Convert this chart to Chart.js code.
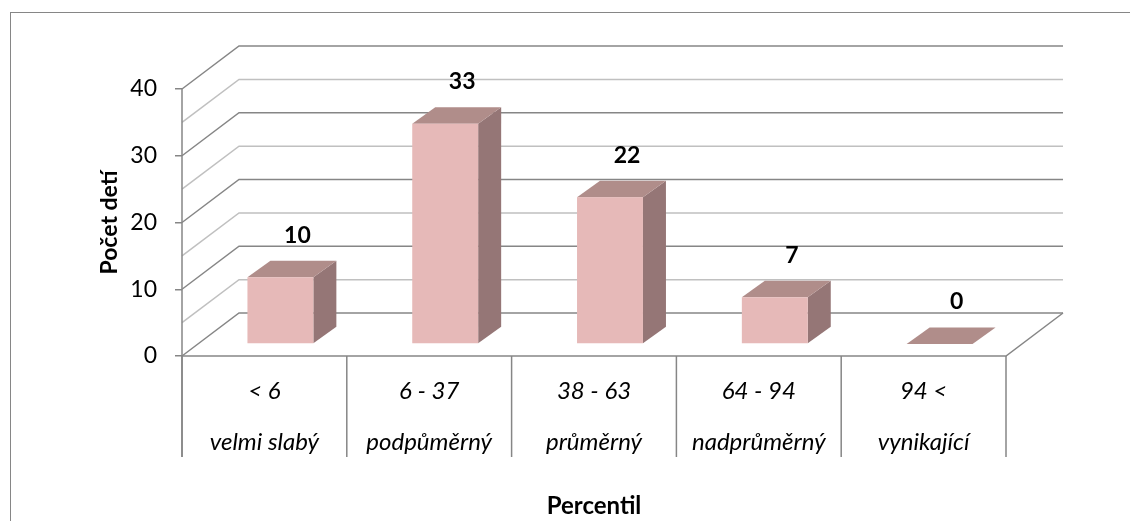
<!DOCTYPE html>
<html>
<head>
<meta charset="utf-8">
<script src="https://cdn.jsdelivr.net/npm/chart.js@4"></script>
<style>
  body { margin: 0; background: #fff; }
</style>
</head>
<body>
<canvas id="myChart" width="1130" height="521"></canvas>
<script>
// data
var ranges = ['< 6', '6 - 37', '38 - 63', '64 - 94', '94 <'];
var levels = ['velmi slabý', 'podpůměrný', 'průměrný', 'nadprůměrný', 'vynikající'];
var counts = [10, 33, 22, 7, 0];
var yMin = 0, yMax = 40, yStep = 10;

var FONT = 'Lato, "Open Sans", sans-serif';
var DARK = '#868686', LIGHT = '#c0c0c0';
var FRONT = '#e6b9b8', TOP = '#b08d8a', SIDE = '#957676';
// depth of the walls and of the bars (pseudo 3d)
var DX = 57, DY = -43;
var OX = 16, OY = -12, BX = 23, BY = -16.5;

function line(ctx, pts, color, w) {
    ctx.beginPath();
    ctx.moveTo(pts[0][0], pts[0][1]);
    for (var i = 1; i < pts.length; i++) ctx.lineTo(pts[i][0], pts[i][1]);
    ctx.strokeStyle = color;
    ctx.lineWidth = w;
    ctx.stroke();
}
function poly(ctx, pts, color) {
    ctx.beginPath();
    ctx.moveTo(pts[0][0], pts[0][1]);
    for (var i = 1; i < pts.length; i++) ctx.lineTo(pts[i][0], pts[i][1]);
    ctx.closePath();
    ctx.fillStyle = color;
    ctx.fill();
}

var frame = {
    id: 'frame',
    beforeDraw: function(chart) {
        var ctx = chart.ctx;
        ctx.save();
        ctx.fillStyle = '#fff';
        ctx.fillRect(0, 0, chart.width, chart.height);
        ctx.strokeStyle = DARK;
        ctx.lineWidth = 1;
        ctx.strokeRect(10.5, 12.5, chart.width + 50, chart.height + 50);
        ctx.restore();
    }
};

var walls = {
    id: 'walls',
    beforeDatasetsDraw: function(chart) {
        var ctx = chart.ctx, y = chart.scales.y, x = chart.scales.x;
        var L = chart.chartArea.left, R = chart.chartArea.right;
        var B = y.getPixelForValue(yMin);
        ctx.save();
        for (var v = yMin; v <= yMax; v += yStep / 2) {
            var py = y.getPixelForValue(v);
            var c = (v % yStep === 0) ? DARK : LIGHT;
            line(ctx, [[L, py], [L + DX, py + DY], [R + DX, py + DY]], c, 1.5);
        }
        // floor edges
        line(ctx, [[L, B], [R, B], [R + DX, B + DY]], DARK, 1.5);
        // axis line and category dividers
        var bottom = B + 101;
        line(ctx, [[L, y.getPixelForValue(yMax)], [L, bottom]], DARK, 1.5);
        for (var i = 0; i <= ranges.length; i++) {
            var px = x.getPixelForValue(i - 0.5);
            line(ctx, [[px, B], [px, bottom]], DARK, 1.5);
        }
        ctx.restore();
    }
};

var boxes = {
    id: 'boxes',
    afterDatasetsDraw: function(chart) {
        var ctx = chart.ctx;
        var meta = chart.getDatasetMeta(0);
        ctx.save();
        meta.data.forEach(function(bar, i) {
            var l = bar.x - bar.width / 2 + OX, r = bar.x + bar.width / 2 + OX;
            var t = bar.y + OY, b = bar.base + OY;
            poly(ctx, [[r, t], [r + BX, t + BY], [r + BX, b + BY], [r, b]], SIDE);
            poly(ctx, [[l, t], [r, t], [r + BX, t + BY], [l + BX, t + BY]], TOP);
            if (b - t > 0) {
                ctx.fillStyle = FRONT;
                ctx.fillRect(l, t, r - l, b - t);
            }
            ctx.fillStyle = '#000';
            ctx.font = 'bold 23px ' + FONT;
            ctx.textAlign = 'center';
            ctx.textBaseline = 'middle';
            ctx.fillText(String(counts[i]), bar.x + 33, bar.y - 54);
        });
        ctx.restore();
    }
};

var ctx = document.getElementById('myChart').getContext('2d');
var myChart = new Chart(ctx, {
    type: 'bar',
    data: {
        labels: ranges.map(function(r, i) { return [r, levels[i]]; }),
        datasets: [{
            label: 'Počet detí',
            data: counts,
            backgroundColor: 'rgba(0,0,0,0)',
            borderWidth: 0,
            barPercentage: 0.4,
            categoryPercentage: 1
        }]
    },
    plugins: [frame, walls, boxes],
    options: {
        responsive: false,
        animation: false,
        events: [],
        layout: { padding: { top: 89, right: 124, left: 0, bottom: 0 } },
        plugins: {
            legend: { display: false },
            tooltip: { enabled: false }
        },
        scales: {
            x: {
                grid: { display: false },
                border: { display: false },
                ticks: {
                    padding: 2,
                    color: '#000',
                    maxRotation: 0,
                    autoSkip: false,
                    font: { family: FONT, size: 24, style: 'italic', lineHeight: '51px' }
                },
                title: {
                    display: true,
                    text: 'Percentil',
                    color: '#000',
                    padding: { top: 0, bottom: 0 },
                    font: { family: FONT, size: 24, weight: 'bold' }
                },
                afterFit: function(scale) { scale.height = 165; }
            },
            y: {
                min: yMin,
                max: yMax,
                grid: { drawOnChartArea: false, drawTicks: true, tickLength: 7, color: DARK, lineWidth: 1.5 },
                border: { display: false },
                ticks: {
                    stepSize: yStep,
                    padding: 18,
                    color: '#000',
                    font: { family: FONT, size: 23 }
                },
                title: {
                    display: true,
                    text: 'Počet detí',
                    color: '#000',
                    padding: { top: 96, bottom: 0 },
                    font: { family: FONT, size: 23, weight: 'bold' }
                },
                afterFit: function(scale) { scale.width = 182; }
            }
        }
    }
});
</script>
</body>
</html>
